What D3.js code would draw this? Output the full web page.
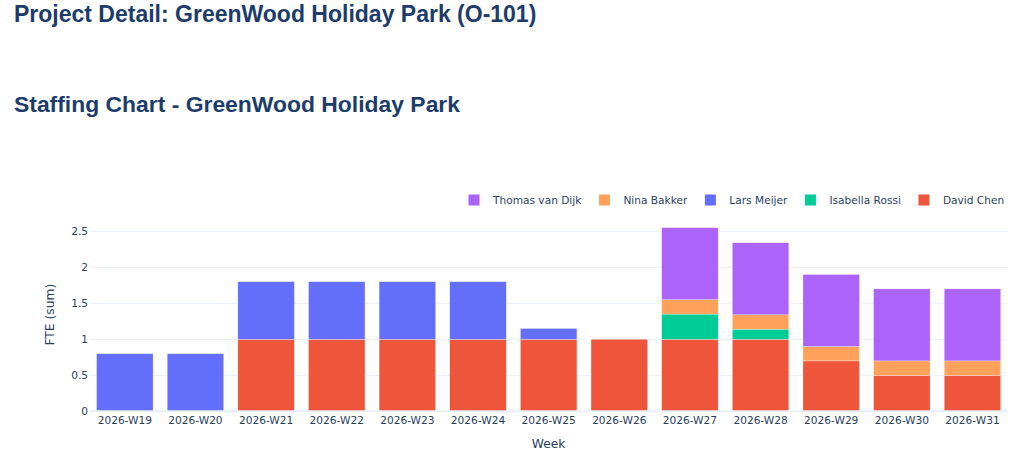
<!DOCTYPE html>
<html>
<head>
<meta charset="utf-8" />
<title>Staffing Chart - GreenWood Holiday Park</title>
<script src="https://cdn.jsdelivr.net/npm/d3@7"></script>
<style>
	body { margin: 0; background: #fff; }
	svg { display: block; }
</style>
</head>
<body>
<svg id="chart" width="1024" height="461"></svg>
<script>
// data
const weeks = ['2026-W19', '2026-W20', '2026-W21', '2026-W22', '2026-W23', '2026-W24', '2026-W25',
	'2026-W26', '2026-W27', '2026-W28', '2026-W29', '2026-W30', '2026-W31'];
const davidChen     = [0, 0, 1, 1, 1, 1, 1, 1, 1, 1, 0.7, 0.5, 0.5];
const isabellaRossi = [0, 0, 0, 0, 0, 0, 0, 0, 0.35, 0.14, 0, 0, 0];
const larsMeijer    = [0.8, 0.8, 0.8, 0.8, 0.8, 0.8, 0.15, 0, 0, 0, 0, 0, 0];
const ninaBakker    = [0, 0, 0, 0, 0, 0, 0, 0, 0.2, 0.2, 0.2, 0.2, 0.2];
const thomasVanDijk = [0, 0, 0, 0, 0, 0, 0, 0, 1, 1, 1, 1, 1];
const yTicks = [0, 0.5, 1, 1.5, 2, 2.5];

// stacked bottom to top
const people = [
	{ name: 'David Chen', values: davidChen, color: '#EF553B' },
	{ name: 'Isabella Rossi', values: isabellaRossi, color: '#00CC96' },
	{ name: 'Lars Meijer', values: larsMeijer, color: '#636EFA' },
	{ name: 'Nina Bakker', values: ninaBakker, color: '#FFA15A' },
	{ name: 'Thomas van Dijk', values: thomasVanDijk, color: '#AB63FA' }
];

const svg = d3.select('#chart');
const tickFont = 'DejaVu Sans, Verdana, sans-serif';
const axisColor = '#2a3f5f';

// page headings
svg.append('text')
	.attr('x', 14).attr('y', 21.7)
	.style('font-family', 'Liberation Sans, Arial, sans-serif')
	.style('font-weight', 'bold').style('font-size', '23px')
	.style('fill', '#1d3c6b')
	.text('Project Detail: GreenWood Holiday Park (O-101)');

svg.append('text')
	.attr('x', 14).attr('y', 111.7)
	.style('font-family', 'Liberation Sans, Arial, sans-serif')
	.style('font-weight', 'bold').style('font-size', '22.9px')
	.style('fill', '#1d3c6b')
	.text('Staffing Chart - GreenWood Holiday Park');

const plot = { left: 89.5, right: 1007.8, top: 218, bottom: 411.3 };

const table = weeks.map((w, i) => {
	const row = { week: w };
	people.forEach(p => { row[p.name] = p.values[i]; });
	return row;
});
const stacked = d3.stack().keys(people.map(p => p.name))(table);
const maxTotal = d3.max(stacked[stacked.length - 1], d => d[1]);

const xScale = d3.scaleBand().domain(weeks).range([plot.left, plot.right]).paddingInner(0.2).paddingOuter(0.1);
const yScale = d3.scaleLinear().domain([0, maxTotal * 1.0526]).range([plot.bottom, plot.top]);

// grid
svg.append('g').selectAll('line')
	.data(yTicks.filter(t => t > 0)).enter()
	.append('line')
	.attr('x1', plot.left).attr('x2', plot.right)
	.attr('y1', d => yScale(d)).attr('y2', d => yScale(d))
	.attr('stroke', '#EBF0F8').attr('stroke-width', 1);

// bars
svg.append('g').selectAll('g')
	.data(stacked).enter()
	.append('g')
	.attr('fill', (d, i) => people[i].color)
	.selectAll('rect')
	.data(d => d.filter(s => s[1] - s[0] > 0)).enter()
	.append('rect')
	.attr('x', d => xScale(d.data.week))
	.attr('width', xScale.bandwidth())
	.attr('y', d => yScale(d[1]))
	.attr('height', d => yScale(d[0]) - yScale(d[1]))
	.attr('stroke', '#fff').attr('stroke-width', 0.5).attr('stroke-opacity', 0.6);

// zero line
svg.append('line')
	.attr('x1', plot.left).attr('x2', plot.right)
	.attr('y1', yScale(0)).attr('y2', yScale(0))
	.attr('stroke', '#EBF0F8').attr('stroke-width', 2);

// y axis
const yAxis = d3.axisLeft(yScale).tickValues(yTicks).tickSize(0).tickPadding(1.5)
	.tickFormat(d3.format('~g'));
const yG = svg.append('g').attr('transform', `translate(${plot.left},0)`).call(yAxis);
yG.select('.domain').remove();
yG.selectAll('text').style('font-family', tickFont).style('font-size', '10.6px').style('fill', axisColor);

// x axis
const xAxis = d3.axisBottom(xScale).tickSize(0).tickPadding(5);
const xG = svg.append('g').attr('transform', `translate(0,${plot.bottom})`).call(xAxis);
xG.select('.domain').remove();
xG.selectAll('text').style('font-family', tickFont).style('font-size', '10.6px').style('fill', axisColor);

// axis titles
svg.append('text')
	.attr('x', (plot.left + plot.right) / 2).attr('y', 447.5)
	.attr('text-anchor', 'middle')
	.style('font-family', tickFont).style('font-size', '12.3px').style('fill', axisColor)
	.text('Week');

svg.append('text')
	.attr('transform', `translate(54,${(plot.top + plot.bottom) / 2}) rotate(-90)`)
	.attr('text-anchor', 'middle')
	.style('font-family', tickFont).style('font-size', '12.3px').style('fill', axisColor)
	.text('FTE (sum)');

// legend, reversed trace order, laid out left to right
const legend = svg.append('g');
let lx = 474;
people.slice().reverse().forEach(p => {
	const item = legend.append('g');
	item.append('rect')
		.attr('x', lx - 5.5).attr('y', 194.5)
		.attr('width', 11).attr('height', 11)
		.attr('fill', p.color);
	const label = item.append('text')
		.attr('x', lx + 19).attr('y', 204)
		.style('font-family', tickFont).style('font-size', '10.6px').style('fill', axisColor)
		.text(p.name);
	lx = lx + 19 + label.node().getComputedTextLength() + 23;
});
</script>
</body>
</html>
